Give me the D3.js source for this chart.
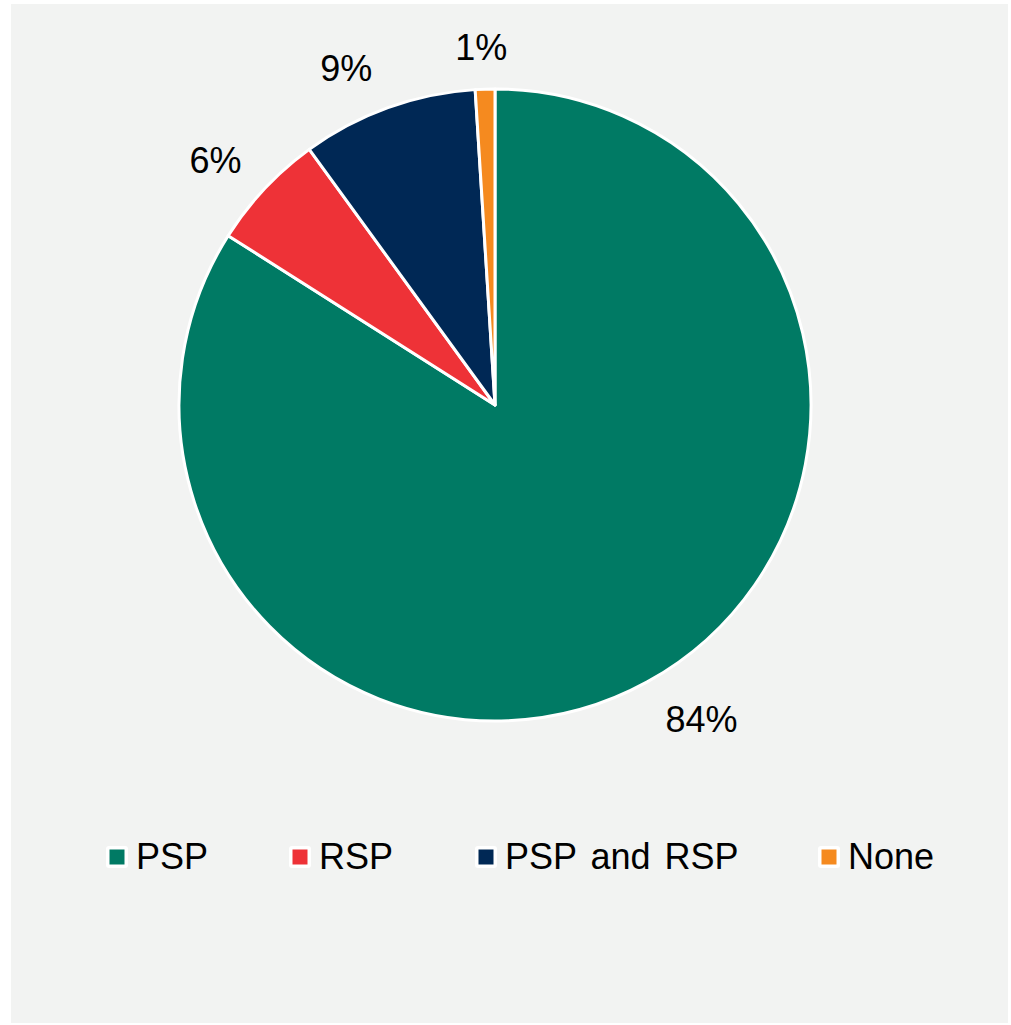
<!DOCTYPE html>
<html>
<head>
<meta charset="utf-8">
<script src="https://cdn.jsdelivr.net/npm/d3@7"></script>
<style>
  html, body { margin: 0; padding: 0; background: #ffffff; }
  svg { display: block; }
  text { font-family: "Liberation Sans", Arial, sans-serif; fill: #000; }
</style>
</head>
<body>
<svg id="chart" width="1011" height="1025"></svg>
<script>
// Share of respondents by scheme type
const categories = ["PSP", "RSP", "PSP and RSP", "None"];
const shares = [84, 6, 9, 1];
const colors = ["#007a64", "#ee3237", "#002855", "#f58a1f"];
const labelText = ["84%", "6%", "9%", "1%"];

// horizontal nudges applied to the outside labels (px)
const labelNudge = [23, -9, -23, -2];

const cx = 495, cy = 405, radius = 316;
const fontSize = 36;

const svg = d3.select("#chart");

// panel background
svg.append("rect")
  .attr("x", 11).attr("y", 4)
  .attr("width", 997).attr("height", 1019)
  .attr("fill", "#f2f3f2");

const data = categories.map((c, i) => ({
  name: c, value: shares[i], color: colors[i], label: labelText[i], nudge: labelNudge[i]
}));

const pie = d3.pie().value(d => d.value).sort(null);
const arcs = pie(data);

const arc = d3.arc().innerRadius(0).outerRadius(radius);
const labelR = radius + 29;

const g = svg.append("g").attr("transform", `translate(${cx},${cy})`);

g.selectAll("path.slice")
  .data(arcs)
  .join("path")
  .attr("class", "slice")
  .attr("d", arc)
  .attr("fill", d => d.data.color)
  .attr("stroke", "#ffffff")
  .attr("stroke-width", 3)
  .attr("stroke-linejoin", "round");

// percentage labels outside the pie: the text box sits just beyond the rim
g.selectAll("text.pct")
  .data(arcs)
  .join("text")
  .attr("class", "pct")
  .attr("font-size", fontSize)
  .attr("text-anchor", "middle")
  .text(d => d.data.label)
  .each(function (d) {
    const mid = (d.startAngle + d.endAngle) / 2;
    const s = Math.sin(mid), c = -Math.cos(mid);
    const halfW = this.getComputedTextLength() / 2;
    const halfH = 13;
    const x = labelR * s + halfW * s + d.data.nudge;
    const yc = labelR * c + halfH * c;
    d3.select(this)
      .attr("x", x)
      .attr("y", yc + 0.358 * fontSize);
  });

// legend
const legendX = [106, 289, 475, 818];
const legend = svg.append("g").attr("transform", "translate(0,846)");
const items = legend.selectAll("g.item")
  .data(data)
  .join("g")
  .attr("class", "item")
  .attr("transform", (d, i) => `translate(${legendX[i]},0)`);

items.append("rect")
  .attr("width", 22).attr("height", 22)
  .attr("rx", 3)
  .attr("fill", "#ffffff");
items.append("rect")
  .attr("x", 3.5).attr("y", 3.5)
  .attr("width", 15).attr("height", 15)
  .attr("fill", d => d.color);
items.append("text")
  .attr("x", 30)
  .attr("y", 23)
  .attr("font-size", fontSize)
  .attr("word-spacing", 4)
  .text(d => d.name);
</script>
</body>
</html>
